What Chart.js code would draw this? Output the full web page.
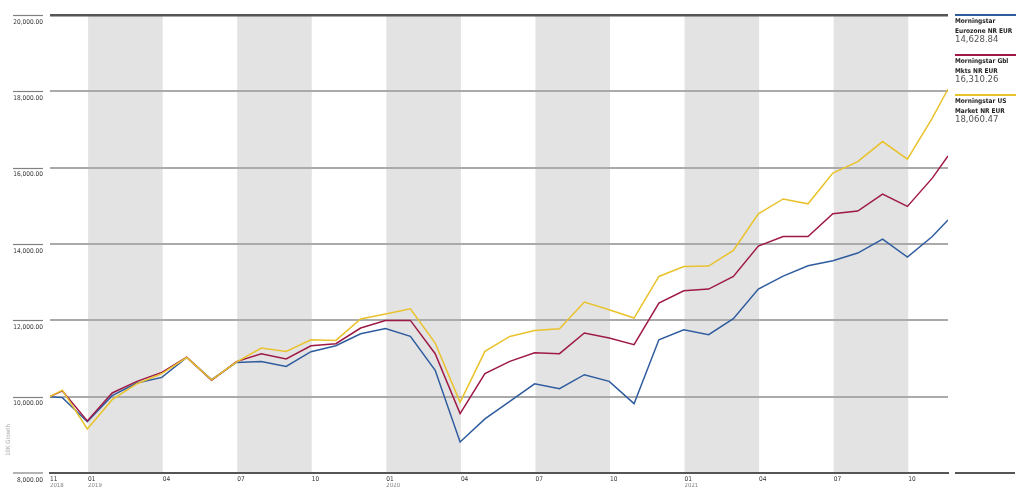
<!DOCTYPE html>
<html lang="en">
<head>
<meta charset="UTF-8">
<title>Growth of 10K</title>
<script src="https://cdn.jsdelivr.net/npm/chart.js"></script>
<style>
    html, body { margin: 0; padding: 0; background: #fff; overflow: hidden; }
    #chart { display: block; }
</style>
</head>
<body>
<canvas id="chart" width="1027" height="498"></canvas>
<script>
// first point = start of the period, then month ends, last = end date
const dates = [
    '2018-11-15', '2018-11-30', '2018-12-31',
    '2019-01-31', '2019-02-28', '2019-03-31', '2019-04-30', '2019-05-31', '2019-06-30',
    '2019-07-31', '2019-08-31', '2019-09-30', '2019-10-31', '2019-11-30', '2019-12-31',
    '2020-01-31', '2020-02-29', '2020-03-31', '2020-04-30', '2020-05-31', '2020-06-30',
    '2020-07-31', '2020-08-31', '2020-09-30', '2020-10-31', '2020-11-30', '2020-12-31',
    '2021-01-31', '2021-02-28', '2021-03-31', '2021-04-30', '2021-05-31', '2021-06-30',
    '2021-07-31', '2021-08-31', '2021-09-30', '2021-10-31', '2021-11-19'
];
const eurozone = [
    10000, 9975, 9345,
    10026, 10358, 10505, 11029, 10445, 10898,
    10924, 10793, 11178, 11335, 11649, 11788,
    11579, 10689, 8814, 9416, 9877, 10336,
    10209, 10576, 10401, 9817, 11492, 11754,
    11623, 12042, 12819, 13160, 13430, 13560,
    13762, 14129, 13657, 14197, 14628.84
];
const gblMkts = [
    10000, 10150, 9365,
    10097, 10400, 10636, 11035, 10430, 10920,
    11126, 10987, 11335, 11387, 11799, 11998,
    11998, 11126, 9555, 10602, 10924, 11150,
    11126, 11667, 11536, 11361, 12453, 12775,
    12819, 13150, 13945, 14197, 14197, 14791,
    14862, 15307, 14984, 15726, 16310.26
];
const usMarket = [
    10000, 10170, 9154,
    9921, 10340, 10602, 11025, 10440, 10905,
    11275, 11186, 11492, 11474, 12034, 12165,
    12304, 11406, 9851, 11186, 11579, 11736,
    11780, 12479, 12278, 12060, 13150, 13411,
    13422, 13830, 14791, 15180, 15053, 15857,
    16160, 16684, 16223, 17296, 18060.47
];

const seriesNames = [
    ['Morningstar', 'Eurozone NR EUR'],
    ['Morningstar Gbl', 'Mkts NR EUR'],
    ['Morningstar US', 'Market NR EUR']
];
const seriesColors = ['#2f5c9f', '#9e1a45', '#e9c22c'];

const tickDates = ['2018-11-15', '2019-01-01', '2019-04-01', '2019-07-01', '2019-10-01',
    '2020-01-01', '2020-04-01', '2020-07-01', '2020-10-01',
    '2021-01-01', '2021-04-01', '2021-07-01', '2021-10-01'];
const tickMonths = ['11', '01', '04', '07', '10', '01', '04', '07', '10', '01', '04', '07', '10'];
const tickYears = ['2018', '2019', '', '', '', '2020', '', '', '', '2021', '', '', ''];

// shaded quarters
const shadeFrom = ['2019-01-01', '2019-07-01', '2020-01-01', '2020-07-01', '2021-01-01', '2021-07-01'];
const shadeTo = ['2019-04-01', '2019-10-01', '2020-04-01', '2020-10-01', '2021-04-01', '2021-10-01'];

const FONT = "'Liberation Sans Narrow', 'DejaVu Sans Condensed', 'Arial Narrow', sans-serif";

// months since Nov 2018 (fractional)
function monthPos(s) {
    const [y, m, d] = s.split('-').map(Number);
    const dim = new Date(y, m, 0).getDate();
    return (y - 2018) * 12 + (m - 11) + (d - 1) / dim;
}

const xs = dates.map(monthPos);
const tickPos = tickDates.map(monthPos);
const toPoints = arr => arr.map((v, i) => ({ x: xs[i], y: v }));

const fmt = v => v.toLocaleString('en-US', { minimumFractionDigits: 2, maximumFractionDigits: 2 });

const decor = {
    id: 'decor',
    beforeDraw(chart) {
        const { ctx, chartArea: a, scales: { x, y } } = chart;
        ctx.save();
        ctx.fillStyle = '#fff';
        ctx.fillRect(0, 0, chart.width, chart.height);
        // grey quarter bands
        ctx.fillStyle = '#e3e3e3';
        shadeFrom.forEach((f, i) => {
            const x0 = x.getPixelForValue(monthPos(f));
            const x1 = x.getPixelForValue(monthPos(shadeTo[i]));
            ctx.fillRect(x0, a.top, x1 - x0, a.bottom - a.top);
        });
        // short grid stubs left of the labels
        ctx.strokeStyle = '#808080';
        ctx.lineWidth = 1.2;
        y.ticks.forEach(t => {
            if (t.value === 8000) return;
            const py = Math.round(y.getPixelForValue(t.value)) + 0.5;
            ctx.beginPath();
            ctx.moveTo(13, py);
            ctx.lineTo(43, py);
            ctx.stroke();
        });
        ctx.beginPath();
        ctx.moveTo(13, a.bottom);
        ctx.lineTo(43, a.bottom);
        ctx.stroke();
        // axis title
        ctx.translate(8, 440);
        ctx.rotate(-Math.PI / 2);
        ctx.fillStyle = '#a8a8a8';
        ctx.font = '6px ' + FONT;
        ctx.textAlign = 'center';
        ctx.textBaseline = 'middle';
        ctx.fillText('10K Growth', 0, 0);
        ctx.restore();
    },
    afterDraw(chart) {
        const { ctx, chartArea: a } = chart;
        const lx = 955, lw = 61;
        ctx.save();
        chart.data.datasets.forEach((ds, i) => {
            const top = 15 + i * 40;
            ctx.strokeStyle = seriesColors[i];
            ctx.lineWidth = 2;
            ctx.beginPath();
            ctx.moveTo(lx, top);
            ctx.lineTo(lx + lw, top);
            ctx.stroke();
            ctx.textAlign = 'left';
            ctx.textBaseline = 'middle';
            ctx.fillStyle = '#222';
            ctx.font = 'bold 6.5px ' + FONT;
            ctx.fillText(seriesNames[i][0], lx, top + 6.5);
            ctx.fillText(seriesNames[i][1], lx, top + 16);
            ctx.fillStyle = '#555';
            ctx.font = '9.5px ' + FONT;
            const last = ds.data[ds.data.length - 1].y;
            ctx.fillText(fmt(last), lx, top + 25);
        });
        ctx.strokeStyle = '#555';
        ctx.lineWidth = 2;
        ctx.beginPath();
        ctx.moveTo(lx, a.bottom);
        ctx.lineTo(lx + 60, a.bottom);
        ctx.stroke();
        ctx.restore();
    }
};

new Chart(document.getElementById('chart'), {
    type: 'line',
    data: {
        datasets: [
            { label: seriesNames[0].join(' '), data: toPoints(eurozone), borderColor: seriesColors[0], order: 2 },
            { label: seriesNames[1].join(' '), data: toPoints(gblMkts), borderColor: seriesColors[1], order: 1 },
            { label: seriesNames[2].join(' '), data: toPoints(usMarket), borderColor: seriesColors[2], order: 0 }
        ]
    },
    options: {
        responsive: false,
        devicePixelRatio: 1,
        animation: false,
        layout: { padding: { top: 15, right: 79, left: 0, bottom: 0 } },
        elements: {
            line: { borderWidth: 1.5, tension: 0 },
            point: { radius: 0 }
        },
        plugins: { legend: { display: false }, tooltip: { enabled: false } },
        scales: {
            x: {
                type: 'linear',
                position: 'bottom',
                min: xs[0],
                max: xs[xs.length - 1],
                afterBuildTicks: s => { s.ticks = tickPos.map(v => ({ value: v })); },
                afterFit: s => { s.height = 10; },
                grid: { display: false, drawTicks: false },
                border: { color: '#555', width: 2 },
                ticks: {
                    autoSkip: false,
                    maxRotation: 0,
                    align: 'start',
                    padding: 2,
                    color: '#333',
                    font: { family: FONT, size: 6.5 },
                    callback: v => tickMonths[tickPos.indexOf(v)]
                }
            },
            x2: {
                type: 'linear',
                position: 'bottom',
                min: xs[0],
                max: xs[xs.length - 1],
                afterBuildTicks: s => {
                    s.ticks = tickPos.filter((v, i) => tickYears[i]).map(v => ({ value: v }));
                },
                afterFit: s => { s.height = 15; },
                grid: { display: false, drawTicks: false },
                border: { display: false },
                ticks: {
                    autoSkip: false,
                    maxRotation: 0,
                    align: 'start',
                    padding: -1,
                    color: '#808080',
                    font: { family: FONT, size: 6 },
                    callback: v => tickYears[tickPos.indexOf(v)]
                }
            },
            y: {
                min: 8000,
                max: 20000,
                afterFit: s => { s.width = 50; },
                border: { display: false },
                grid: {
                    drawTicks: false,
                    color: c => (c.tick.value === 20000 || c.tick.value === 8000) ? '#555' : '#aaaaaa',
                    lineWidth: c => c.tick.value === 20000 ? 2.5 : 2
                },
                ticks: {
                    stepSize: 2000,
                    padding: 7,
                    labelOffset: 7,
                    color: '#333',
                    font: { family: FONT, size: 6.5 },
                    callback: v => fmt(v)
                }
            }
        }
    },
    plugins: [decor]
});
</script>
</body>
</html>
